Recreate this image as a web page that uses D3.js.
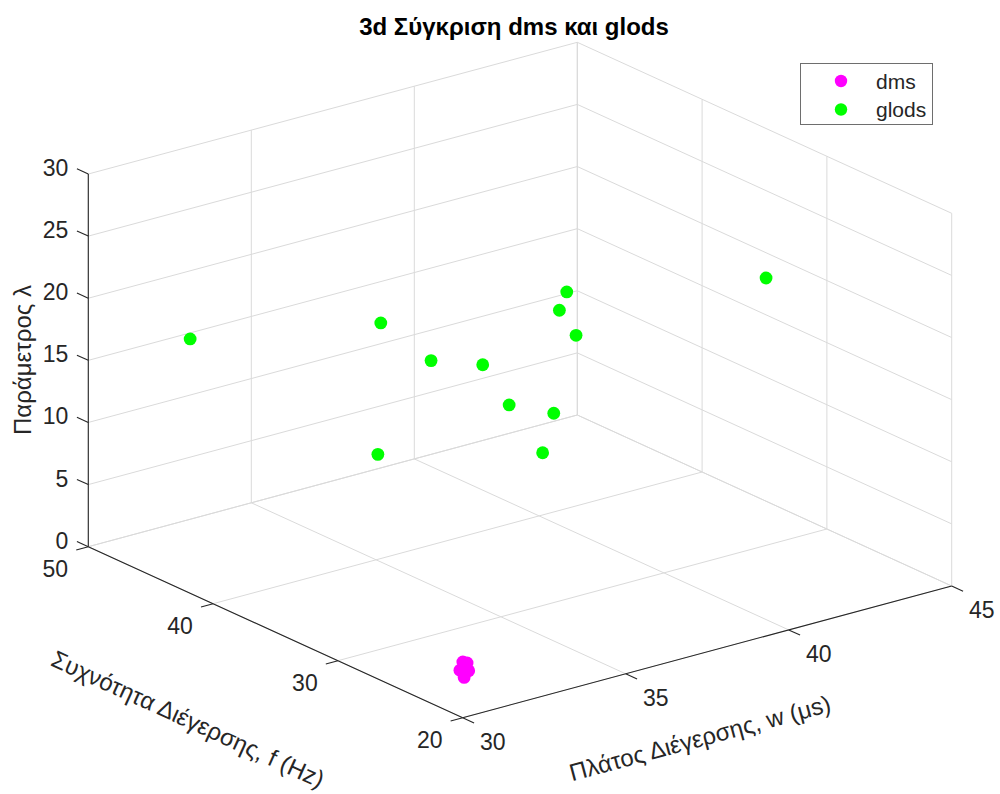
<!DOCTYPE html>
<html>
<head>
<meta charset="utf-8">
<script src="https://cdn.jsdelivr.net/npm/d3@7"></script>
<style>
  html, body { margin: 0; padding: 0; background: #fff; }
  svg { display: block; font-family: "Liberation Sans", Arial, Helvetica, sans-serif; }
</style>
</head>
<body>
<svg id="chart" width="1000" height="794"></svg>
<script>
// Axis ticks
const wTicks = [30, 35, 40, 45];
const fTicks = [20, 30, 40, 50];
const zTicks = [0, 5, 10, 15, 20, 25, 30];

// DMS results: pulse width w (μs), frequency f (Hz), parameter λ
const dmsW = [30.77, 30.90, 30.68, 30.95, 30.81];
const dmsF = [22, 22, 22, 22, 22];
const dmsL = [3.02, 2.85, 2.42, 2.19, 1.75];

// GLODS results
const glodsW = [31.21, 33.23, 37.02, 37.56, 36.54, 35.92, 38.27, 37.55, 37.77, 35.82, 36.28, 41.22];
const glodsF = [45, 35, 30, 32, 28, 38, 40, 36, 33, 42, 30, 25];
const glodsL = [18.16, 22.61, 24.72, 21.95, 22.49, 16.30, 13.39, 12.50, 13.05, 6.99, 12.30, 25.17];

const seriesNames = ["dms", "glods"];
const seriesColors = ["#ff00ff", "#00ff00"];

const svg = d3.select("#chart");

// Normalised data scales for the three axes
const wS = d3.scaleLinear().domain([30, 45]).range([0, 1]);
const fS = d3.scaleLinear().domain([20, 50]).range([0, 1]);
const zS = d3.scaleLinear().domain([0, 30]).range([0, 1]);

// Orthographic view (az -37.5°): screen image of the box origin and its edges
const O = [462.7, 717.7];
const EW = [489, -131.7];
const EF = [-374.4, -171];
const EZ = [0, -372.7];

function P(w, f, z) {
  const a = wS(w), b = fS(f), c = zS(z);
  return [O[0] + a * EW[0] + b * EF[0] + c * EZ[0],
          O[1] + a * EW[1] + b * EF[1] + c * EZ[1]];
}

const gridColor = "#dadada";
const axisColor = "#262626";
const grid = svg.append("g").attr("stroke", gridColor).attr("stroke-width", 1).attr("fill", "none");

function seg(g, p, q) {
  g.append("line").attr("x1", p[0]).attr("y1", p[1]).attr("x2", q[0]).attr("y2", q[1]);
}

// Floor grid (z = 0)
wTicks.forEach(w => seg(grid, P(w, 20, 0), P(w, 50, 0)));
fTicks.forEach(f => seg(grid, P(30, f, 0), P(45, f, 0)));
// Back wall f = 50
zTicks.forEach(z => seg(grid, P(30, 50, z), P(45, 50, z)));
wTicks.forEach(w => seg(grid, P(w, 50, 0), P(w, 50, 30)));
// Back wall w = 45
zTicks.forEach(z => seg(grid, P(45, 20, z), P(45, 50, z)));
fTicks.forEach(f => seg(grid, P(45, f, 0), P(45, f, 30)));

// Axis lines
const axes = svg.append("g").attr("stroke", axisColor).attr("stroke-width", 1.1).attr("fill", "none");
seg(axes, P(30, 20, 0), P(45, 20, 0));
seg(axes, P(30, 20, 0), P(30, 50, 0));
seg(axes, P(30, 50, 0), P(30, 50, 30));

const tickLen = 12.5;
const unit = v => { const n = Math.hypot(v[0], v[1]); return [v[0] / n, v[1] / n]; };
const uW = unit(EW), uF = unit(EF);

// Tick marks
wTicks.forEach(w => { const p = P(w, 20, 0); seg(axes, p, [p[0] - uF[0] * tickLen, p[1] - uF[1] * tickLen]); });
fTicks.forEach(f => { const p = P(30, f, 0); seg(axes, p, [p[0] - uW[0] * tickLen, p[1] - uW[1] * tickLen]); });
zTicks.forEach(z => { const p = P(30, 50, z); seg(axes, p, [p[0] + uF[0] * tickLen, p[1] + uF[1] * tickLen]); });

// Tick labels
const tickFont = 23;
const labels = svg.append("g").attr("fill", axisColor).attr("font-size", tickFont);
wTicks.forEach(w => {
  const p = P(w, 20, 0);
  labels.append("text").attr("x", p[0] + 30).attr("y", p[1] + 24)
    .attr("text-anchor", "middle").attr("dominant-baseline", "central").text(w);
});
fTicks.forEach(f => {
  const p = P(30, f, 0);
  labels.append("text").attr("x", p[0] - 33).attr("y", p[1] + 22)
    .attr("text-anchor", "middle").attr("dominant-baseline", "central").text(f);
});
zTicks.forEach(z => {
  const p = P(30, 50, z);
  labels.append("text").attr("x", p[0] - 20).attr("y", p[1] - 6)
    .attr("text-anchor", "end").attr("dominant-baseline", "central").text(z);
});

// Axis titles
const labelFont = 24;
const angW = Math.atan2(EW[1], EW[0]) * 180 / Math.PI;
const angF = Math.atan2(-EF[1], -EF[0]) * 180 / Math.PI;
svg.append("text").attr("fill", axisColor).attr("font-size", labelFont)
  .attr("text-anchor", "middle").attr("dominant-baseline", "central")
  .attr("transform", `translate(700,738) rotate(${angW})`)
  .text("Πλάτος Διέγερσης, w (μs)");
svg.append("text").attr("fill", axisColor).attr("font-size", labelFont)
  .attr("text-anchor", "middle").attr("dominant-baseline", "central")
  .attr("transform", `translate(188,719) rotate(${angF})`)
  .text("Συχνότητα Διέγερσης, f (Hz)");
svg.append("text").attr("fill", axisColor).attr("font-size", labelFont)
  .attr("text-anchor", "middle").attr("dominant-baseline", "central")
  .attr("transform", "translate(22,360) rotate(-90)")
  .text("Παράμετρος λ");

// Markers
const r = 6.4;
const dms = dmsW.map((w, i) => P(w, dmsF[i], dmsL[i]));
const glods = glodsW.map((w, i) => P(w, glodsF[i], glodsL[i]));
svg.append("g").selectAll("circle").data(dms).join("circle")
  .attr("cx", d => d[0]).attr("cy", d => d[1]).attr("r", r).attr("fill", seriesColors[0]);
svg.append("g").selectAll("circle").data(glods).join("circle")
  .attr("cx", d => d[0]).attr("cy", d => d[1]).attr("r", r).attr("fill", seriesColors[1]);

// Title
svg.append("text").attr("x", 514).attr("y", 35).attr("text-anchor", "middle")
  .attr("font-size", 24).attr("font-weight", "bold").attr("fill", "#000")
  .text("3d Σύγκριση dms και glods");

// Legend
const lg = svg.append("g");
lg.append("rect").attr("x", 800.5).attr("y", 63.5).attr("width", 132).attr("height", 61)
  .attr("fill", "#fff").attr("stroke", "#6e6e6e").attr("stroke-width", 1);
seriesNames.forEach((name, i) => {
  const y = 81 + i * 28.5;
  lg.append("circle").attr("cx", 841).attr("cy", y).attr("r", 6.2).attr("fill", seriesColors[i]);
  lg.append("text").attr("x", 876).attr("y", y).attr("dominant-baseline", "central")
    .attr("font-size", 21).attr("fill", axisColor).text(name);
});
</script>
</body>
</html>
